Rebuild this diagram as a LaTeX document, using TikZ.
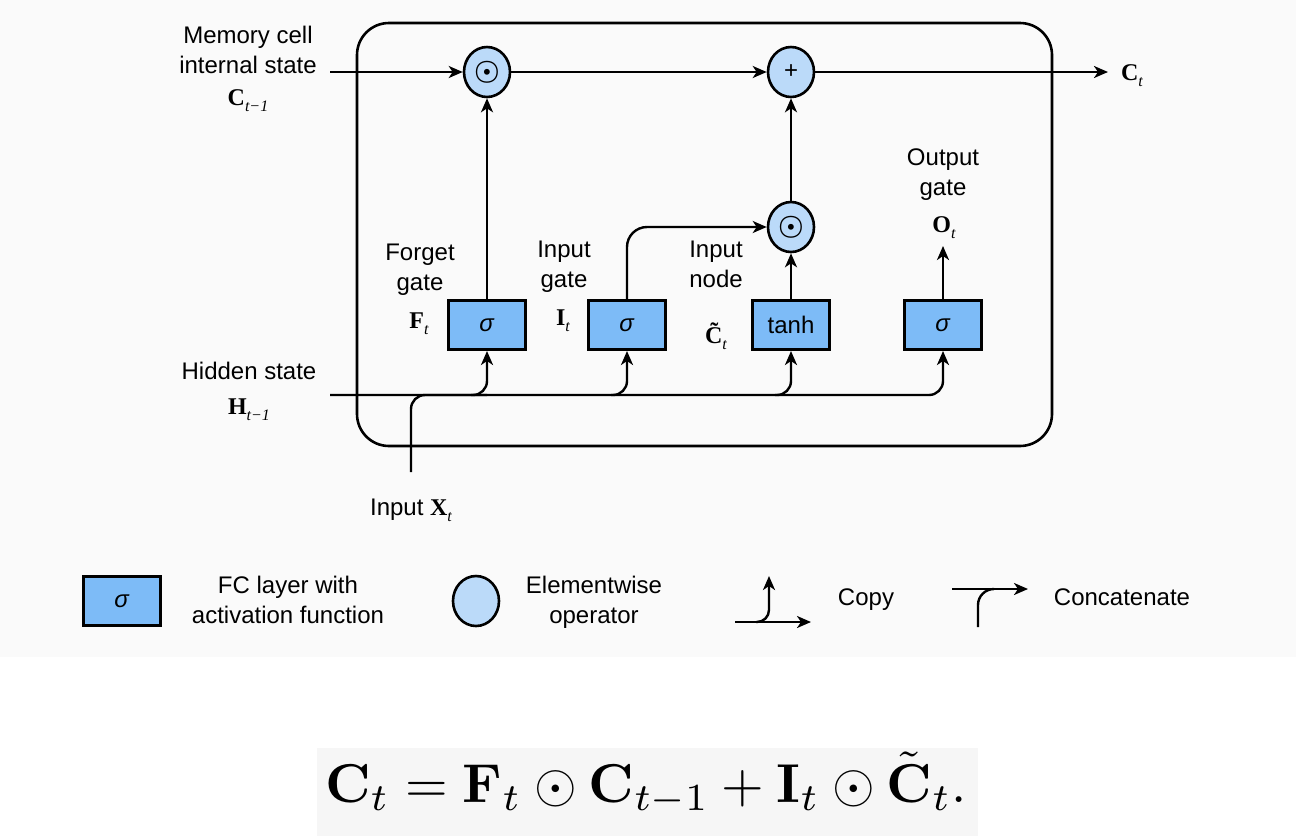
\documentclass[tikz,border=0pt]{standalone}
\usepackage[no-math]{fontspec}
\setmainfont{Liberation Sans}
\newfontfamily\tms{Liberation Serif}
\usepackage{graphicx}
\usetikzlibrary{arrows.meta,shapes.geometric}

\definecolor{panel}{HTML}{FAFAFA}
\definecolor{eqgray}{HTML}{F6F6F6}
\definecolor{fcblue}{HTML}{7DBBF7}
\definecolor{opblue}{HTML}{BBDAF9}

\newcommand\vlab[2]{{\tms\bfseries #1}\raisebox{-3pt}{\tms\itshape\fontsize{8}{8}\selectfont #2}}

\tikzset{
  fc/.style={draw,line width=1.5pt,fill=fcblue,minimum width=38.5pt,minimum height=24.5pt,inner sep=0pt,font=\fontsize{12}{12}\selectfont},
  op/.style={ellipse,draw,line width=1.3pt,fill=opblue,minimum width=23pt,minimum height=25pt,inner sep=0pt,font=\fontsize{12}{12}\selectfont},
  dotop/.style={op,font=\fontsize{15}{15}\selectfont\boldmath},
  arr/.style={line width=1.2pt,-{Stealth[length=7pt,width=6pt,inset=2pt]}},
  txt/.style={anchor=base,align=center,font=\fontsize{12}{15}\selectfont}
}

\begin{document}
\begin{tikzpicture}[x=0.5pt,y=-0.5pt]
  \useasboundingbox (0,0) rectangle (1296,836);
  \fill[panel] (0,0) rectangle (1296,657);
  \fill[eqgray] (317,748) rectangle (978,836);

  % the cell
  \draw[line width=1.3pt,rounded corners=16pt] (357,23) rectangle (1052,446);

  \node[dotop] (mul1) at (487,72) {$\odot$};
  \node[op] (add)  at (791,72) {+};
  \node[dotop] (mul2) at (791,227) {$\odot$};

  \node[fc] (fgate) at (487,325) {\textit{σ}};
  \node[fc] (igate) at (627,325) {\textit{σ}};
  \node[fc] (tnode) at (791,325) {tanh};
  \node[fc] (ogate) at (943,325) {\textit{σ}};

  \coordinate (cin)  at (330,72);
  \coordinate (cout) at (1108,72);
  \coordinate (hin)  at (330,395);
  \coordinate (xin)  at (411,472);
  \coordinate (oout) at (943,246);

  \draw[arr] (cin) -- (mul1);
  \draw[arr] (mul1) -- (add);
  \draw[arr] (add) -- (cout);
  \draw[arr] (fgate) -- (mul1);
  \draw[arr] (tnode) -- (mul2);
  \draw[arr] (mul2) -- (add);
  \draw[arr,rounded corners=10pt] (igate) |- (mul2);
  \draw[arr] (ogate) -- (oout);

  \draw[arr,rounded corners=7pt] (hin) -| (ogate);
  \foreach \g in {fgate,igate,tnode}
    \draw[arr,rounded corners=7pt] (\g |- hin) ++(-16,0) -| (\g);
  \draw[line width=1.2pt,rounded corners=7pt] (xin) |- (fgate |- hin);

  % labels
  \node[txt] (memtxt) at (248,73) {Memory cell\\internal state};
  \node[txt] (memC) at (248,105) {\vlab{C}{t−1}};
  \node[txt] (hidtxt) at (249,379) {Hidden state};
  \node[txt] (hidH) at (249,414) {\vlab{H}{t−1}};
  \node[txt] (fgtxt) at (420,290) {Forget\\gate};
  \node[txt] (fgF) at (419,328) {\vlab{F}{t}};
  \node[txt] (igtxt) at (564,287) {Input\\gate};
  \node[txt] (igI) at (563,325) {\vlab{I}{t}};
  \node[txt] (intxt) at (716,287) {Input\\node};
  \node[txt] (inC) at (716,343) {\vlab{\~{C}}{t}};
  \node[txt] (ogtxt) at (943,195) {Output\\gate};
  \node[txt] (ogO) at (944,232) {\vlab{O}{t}};
  \node[txt] (ctxt) at (1132,80) {\vlab{C}{t}};
  \node[txt] (xtxt) at (411,515) {Input \vlab{X}{t}};

  % legend
  \node[fc] (lgfc) at (122,601) {\textit{σ}};
  \node[txt] (lgfctxt) at (288,623) {FC layer with\\activation function};
  \node[op] (lgop) at (476,601) {};
  \node[txt] (lgoptxt) at (594,623) {Elementwise\\operator};

  \coordinate (cpa) at (735,622);
  \coordinate (cpb) at (811,622);
  \coordinate (cpd) at (756,622);
  \coordinate (cpc) at (769,576);
  \draw[arr] (cpa) -- (cpb);
  \draw[arr,rounded corners=6pt] (cpd) -| (cpc);
  \node[txt] (cptxt) at (866,605) {Copy};

  \coordinate (cca) at (952,589);
  \coordinate (ccb) at (1028,589);
  \coordinate (ccc) at (978,627);
  \coordinate (cce) at (992,589);
  \draw[arr] (cca) -- (ccb);
  \draw[line width=1.2pt,rounded corners=8pt] (ccc) |- (cce);
  \node[txt] (cctxt) at (1122,605) {Concatenate};

  % equation
  \node[anchor=base] (eq) at (646,802) {\scalebox{2.74}{$\mathbf{C}_t = \mathbf{F}_t \odot \mathbf{C}_{t-1} + \mathbf{I}_t \odot \tilde{\mathbf{C}}_t.$}};
\end{tikzpicture}
\end{document}
